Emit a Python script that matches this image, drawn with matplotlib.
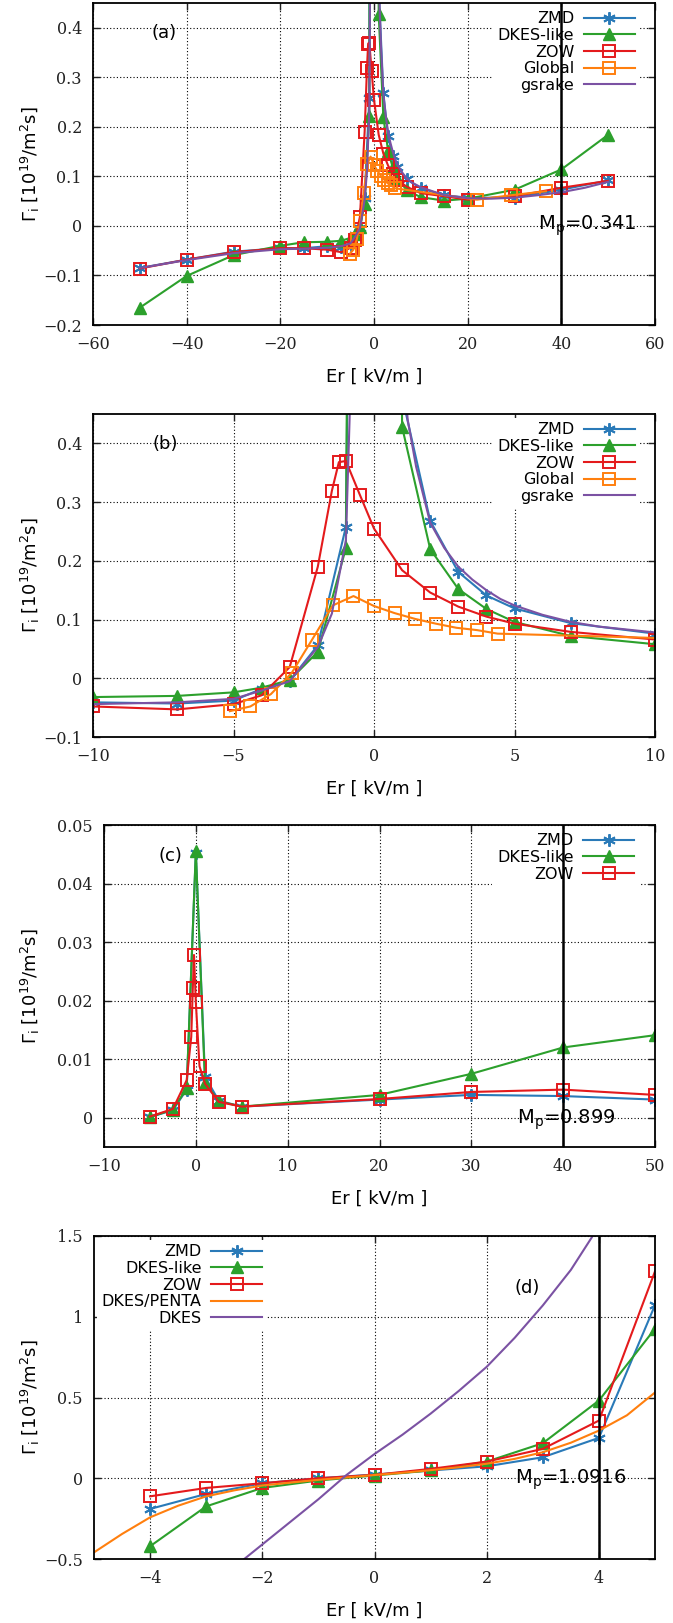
import numpy as np
import matplotlib
matplotlib.use('Agg')
import matplotlib.pyplot as plt
from matplotlib.ticker import FuncFormatter

# ---- panel (a)/(b) data : Er [kV/m] vs Gamma_i ----
zmd_x = [-50, -40, -30, -20, -15, -10, -7, -5, -4, -3, -2, -1, -0.5, 0, 0.5, 1, 2, 3, 4, 5, 7, 10, 15, 20, 30, 40, 50]
zmd_y = [-0.085, -0.068, -0.052, -0.045, -0.045, -0.041, -0.043, -0.038, -0.018, -0.004, 0.056, 0.258, 2.5, 5.0, 2.0, 0.48,
         0.268, 0.181, 0.141, 0.119, 0.094, 0.076, 0.062, 0.057, 0.057, 0.073, 0.092]

dkl_x = [-50, -40, -30, -20, -15, -10, -7, -5, -4, -3, -2, -1, -0.5, 0, 0.5, 1, 2, 3, 4, 5, 7, 10, 15, 20, 30, 40, 50]
dkl_y = [-0.165, -0.101, -0.059, -0.040, -0.033, -0.032, -0.030, -0.024, -0.016, -0.003, 0.045, 0.222, 4.0, 8.0, 4.0,
         0.428, 0.22, 0.152, 0.118, 0.096, 0.072, 0.058, 0.051, 0.055, 0.073, 0.114, 0.184]

zow_x = [-50, -40, -30, -20, -15, -10, -7, -5, -4, -3, -2, -1.5, -1.25, -1, -0.5, 0, 1, 2, 3, 4, 5, 7, 10, 15, 20, 30, 40, 50]
zow_y = [-0.086, -0.068, -0.053, -0.045, -0.045, -0.048, -0.053, -0.044, -0.029, 0.019, 0.19, 0.319, 0.368, 0.37, 0.312,
         0.255, 0.184, 0.146, 0.122, 0.105, 0.093, 0.079, 0.066, 0.060, 0.053, 0.060, 0.077, 0.091]

glb_x = [-5.13, -4.4, -3.67, -2.93, -2.2, -1.47, -0.73, 0, 0.73, 1.47, 2.2, 2.93, 3.67, 4.4, 22, 29.3, 36.7]
glb_y = [-0.056, -0.048, -0.027, 0.009, 0.066, 0.124, 0.140, 0.123, 0.111, 0.101, 0.093, 0.086, 0.082, 0.076, 0.053, 0.062, 0.070]

gsr_x = [-50, -40, -30, -20, -15, -10, -7, -5, -4, -3, -2, -1.5, -1.0, -0.8, -0.5, 0, 0.5, 1.0, 1.2, 1.5, 2, 2.5, 3,
         3.5, 4, 4.5, 5, 6, 7, 8, 10, 15, 20, 25, 30, 35, 40, 45, 50]
gsr_y = [-0.085, -0.069, -0.055, -0.047, -0.046, -0.044, -0.041, -0.035, -0.021, -0.005, 0.053, 0.11, 0.235, 0.55, 1.5,
         4.0, 1.5, 0.55, 0.44, 0.36, 0.265, 0.222, 0.19, 0.168, 0.15, 0.135, 0.124, 0.108, 0.096, 0.088, 0.078, 0.062,
         0.056, 0.055, 0.057, 0.062, 0.068, 0.077, 0.089]

# ---- panel (c) data ----
c_zmd_x = [-5, -2.5, -1, 0, 1, 2.5, 5, 20, 30, 40, 50]
c_zmd_y = [0.0001, 0.0013, 0.0048, 0.0453, 0.0070, 0.0029, 0.0019, 0.0031, 0.0039, 0.0037, 0.0031]
c_dkl_x = [-5, -2.5, -1, 0, 1, 2.5, 5, 20, 30, 40, 50]
c_dkl_y = [0.0001, 0.0014, 0.0050, 0.0455, 0.0060, 0.0028, 0.0019, 0.0039, 0.0075, 0.0120, 0.0141]
c_zow_x = [-5, -2.5, -1, -0.5, -0.33, -0.2, 0, 0.4, 1, 2.5, 5, 20, 30, 40, 50]
c_zow_y = [0.0002, 0.0015, 0.0064, 0.0138, 0.0221, 0.0278, 0.0197, 0.0088, 0.0058, 0.0027, 0.0019, 0.0032, 0.0044,
           0.0048, 0.0039]

# ---- panel (d) data ----
d_x = [-4, -3, -2, -1, 0, 1, 2, 3, 4, 5]
d_zmd = [-0.19, -0.097, -0.031, 0.0, 0.023, 0.048, 0.074, 0.13, 0.25, 1.072]
d_dkl = [-0.421, -0.174, -0.06, -0.014, 0.017, 0.048, 0.103, 0.217, 0.481, 0.926]
d_zow = [-0.112, -0.06, -0.031, 0.0, 0.021, 0.058, 0.103, 0.182, 0.357, 1.281]
pen_x = [-5, -4.5, -4, -3.5, -3, -2.5, -2, -1.5, -1, -0.5, 0, 0.5, 1, 1.5, 2, 2.5, 3, 3.5, 4, 4.5, 5]
pen_y = [-0.459, -0.345, -0.242, -0.17, -0.112, -0.075, -0.045, -0.027, -0.01, 0.005, 0.02, 0.034, 0.05, 0.068, 0.09,
         0.12, 0.161, 0.22, 0.295, 0.39, 0.531]
dk_x = [-2.5, -2, -1.5, -1, -0.5, 0, 0.5, 1, 1.5, 2, 2.5, 3, 3.5, 4]
dk_y = [-0.55, -0.41, -0.27, -0.13, 0.02, 0.15, 0.27, 0.40, 0.54, 0.69, 0.87, 1.07, 1.29, 1.56]

c_blue = '#2a7ab8'
c_green = '#2ca02c'
c_red = '#e41a1c'
c_orange = '#ff7f0e'
c_purple = '#7b52a3'

ast = (6, 2, 0)
lw, ms, mew = 1.5, 9, 1.4

tickfont = ['DejaVu Serif']
plt.rcParams['font.family'] = ['DejaVu Sans']
plt.rcParams['mathtext.fontset'] = 'dejavusans'

W, H = 673, 1623
fig = plt.figure(figsize=(W / 100, H / 100), dpi=100)


def box(l, t, r, b):
    return [l / W, 1 - b / H, (r - l) / W, (b - t) / H]


fmt = FuncFormatter(lambda v, p: ('%g' % round(v, 6)).replace('-', '\u2212'))


def style(ax, xl, yl, xt, yt, l, t, r, b):
    ax.set_xlim(*xl); ax.set_ylim(*yl)
    ax.set_xticks(xt); ax.set_yticks(yt)
    ax.xaxis.set_major_formatter(fmt); ax.yaxis.set_major_formatter(fmt)
    ax.grid(True, color='k', linestyle=(0, (1, 2)), linewidth=0.8)
    ax.set_axisbelow(True)
    ax.tick_params(direction='in', top=True, right=True, length=5, width=1, pad=8, colors='#222222')
    for lab in ax.get_xticklabels() + ax.get_yticklabels():
        lab.set_family(tickfont); lab.set_fontsize(11.5)
    for s in ax.spines.values():
        s.set_linewidth(1.3)
    ax.set_xlabel('Er [ kV/m ]', fontsize=13)
    ax.set_ylabel(r'$\Gamma_\mathrm{i}$ [10$^{19}$/m$^2$s]', fontsize=13)
    ax.xaxis.set_label_coords(0.5, -52 / (b - t))
    ax.xaxis.label.set_va('center')
    ax.yaxis.set_label_coords((30 - l) / (r - l), 0.5)
    ax.yaxis.label.set_va('center')


def legend(ax, loc, anchor):
    leg = ax.legend(loc=loc, bbox_to_anchor=anchor, markerfirst=False, frameon=True, fancybox=False,
                    edgecolor='none', facecolor='white', framealpha=1, fontsize=11.5, handlelength=3.2,
                    handletextpad=0.6, labelspacing=0.1, borderpad=0.3, borderaxespad=0, numpoints=1)
    return leg


def five(ax):
    ax.plot(zmd_x, zmd_y, '-', color=c_blue, lw=lw, marker=ast, ms=ms, mew=mew, label='ZMD')
    ax.plot(dkl_x, dkl_y, '-', color=c_green, lw=lw, marker='^', ms=ms, label='DKES-like')
    ax.plot(zow_x, zow_y, '-', color=c_red, lw=lw, marker='s', ms=ms, mfc='none', mew=mew, label='ZOW')
    ax.plot(glb_x, glb_y, '-', color=c_orange, lw=lw, marker='s', ms=ms, mfc='none', mew=mew, label='Global')
    ax.plot(gsr_x, gsr_y, '-', color=c_purple, lw=lw, label='gsrake')


# (a)
pa = (93, 3, 655, 325)
ax1 = fig.add_axes(box(*pa))
five(ax1)
ax1.axvline(40, color='k', lw=1.8, zorder=6)
style(ax1, (-60, 60), (-0.2, 0.45), np.arange(-60, 61, 20), np.arange(-0.2, 0.41, 0.1), *pa)
legend(ax1, 'upper right', (0.973, 0.989))
ax1.text(-47.5, 0.39, '(a)', fontsize=13, va='center')
ax1.text(35, 0.0, r'M$_\mathrm{p}$=0.341', fontsize=14, va='center', zorder=7)

# (b)
pb = (93, 414, 655, 737)
ax2 = fig.add_axes(box(*pb))
five(ax2)
style(ax2, (-10, 10), (-0.1, 0.45), np.arange(-10, 11, 5), np.arange(-0.1, 0.41, 0.1), *pb)
legend(ax2, 'upper right', (0.973, 0.989))
ax2.text(-7.9, 0.399, '(b)', fontsize=13, va='center')

# (c)
pc = (104, 825, 655, 1147)
ax3 = fig.add_axes(box(*pc))
ax3.plot(c_zmd_x, c_zmd_y, '-', color=c_blue, lw=lw, marker=ast, ms=ms, mew=mew, label='ZMD')
ax3.plot(c_dkl_x, c_dkl_y, '-', color=c_green, lw=lw, marker='^', ms=ms, label='DKES-like')
ax3.plot(c_zow_x, c_zow_y, '-', color=c_red, lw=lw, marker='s', ms=ms, mfc='none', mew=mew, label='ZOW')
ax3.axvline(40, color='k', lw=1.8, zorder=6)
style(ax3, (-10, 50), (-0.005, 0.05), np.arange(-10, 51, 10), np.arange(0, 0.051, 0.01), *pc)
legend(ax3, 'upper right', (0.971, 0.989))
ax3.text(-4.1, 0.0447, '(c)', fontsize=13, va='center')
ax3.text(35, -0.0003, r'M$_\mathrm{p}$=0.899', fontsize=14, va='center', zorder=7)

# (d)
pd_ = (94, 1236, 655, 1559)
ax4 = fig.add_axes(box(*pd_))
ax4.plot(d_x, d_zmd, '-', color=c_blue, lw=lw, marker=ast, ms=ms, mew=mew, label='ZMD')
ax4.plot(d_x, d_dkl, '-', color=c_green, lw=lw, marker='^', ms=ms, label='DKES-like')
ax4.plot(d_x, d_zow, '-', color=c_red, lw=lw, marker='s', ms=ms, mfc='none', mew=mew, label='ZOW')
ax4.plot(pen_x, pen_y, '-', color=c_orange, lw=lw, label='DKES/PENTA')
ax4.plot(dk_x, dk_y, '-', color=c_purple, lw=lw, label='DKES')
ax4.axvline(4, color='k', lw=1.8, zorder=6)
style(ax4, (-5, 5), (-0.5, 1.5), np.arange(-4, 5, 2), np.arange(-0.5, 1.51, 0.5), *pd_)
legend(ax4, 'upper left', (0.005, 0.989))
ax4.text(2.5, 1.18, '(d)', fontsize=13, va='center')
ax4.text(2.5, -0.01, r'M$_\mathrm{p}$=1.0916', fontsize=14, va='center', zorder=7)

fig.savefig('out.png', dpi=100)
